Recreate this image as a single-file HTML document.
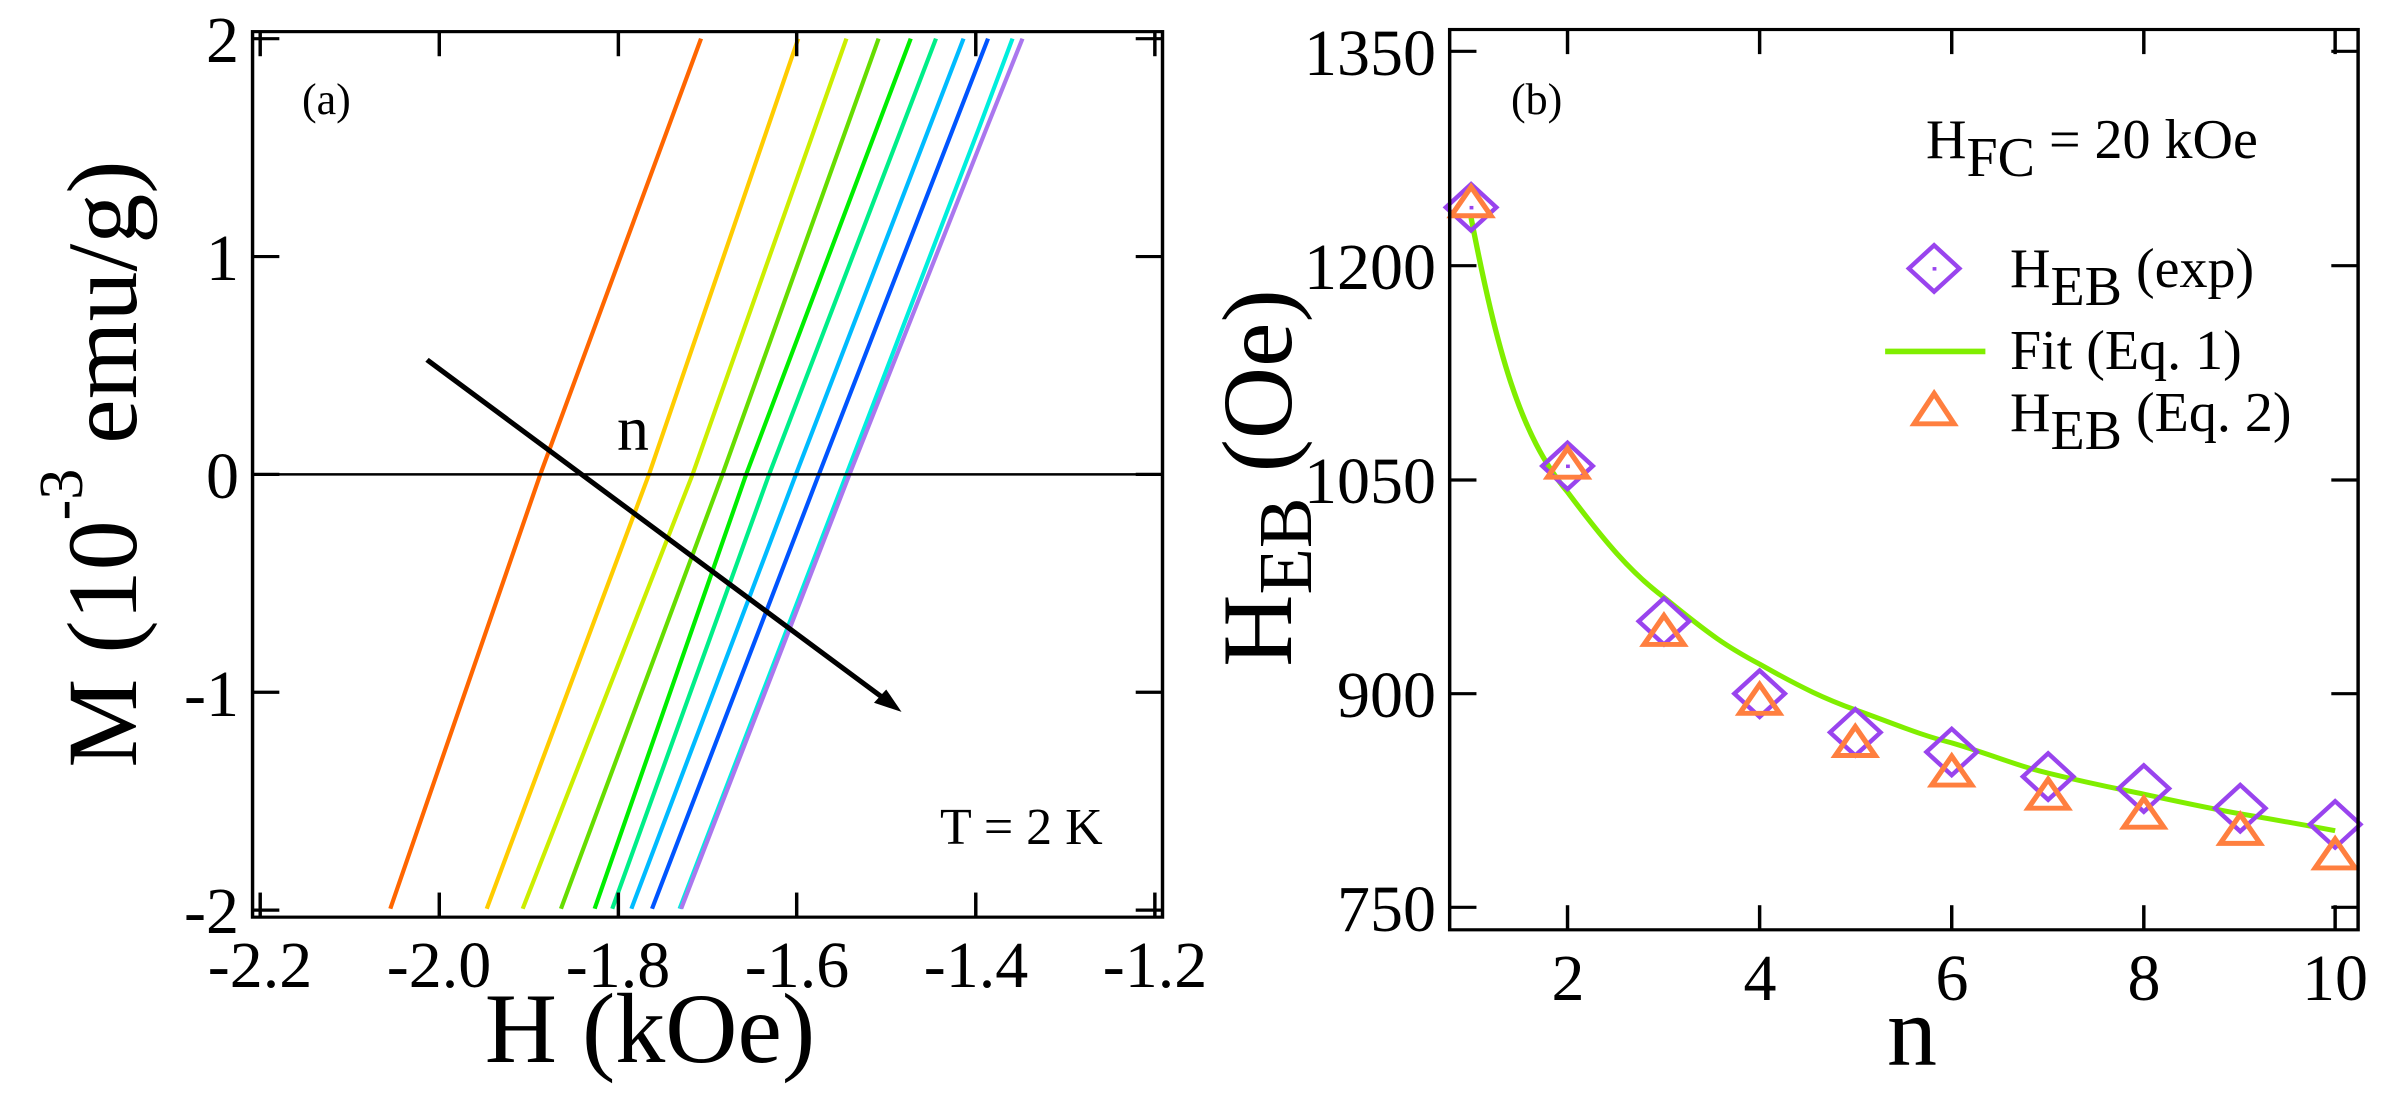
<!DOCTYPE html>
<html><head><meta charset="utf-8"><style>
html,body{margin:0;padding:0;background:#fff}
svg{display:block}
text{font-family:"Liberation Serif",serif;fill:#000}
</style></head><body>
<svg width="2391" height="1102" viewBox="0 0 2391 1102" xmlns="http://www.w3.org/2000/svg">
<g transform="scale(0.76531,0.7028)">
  <g fill="none" stroke-width="5.5">
    <polyline stroke="#ff6600" points="510,1293 706,675 916,55"/>
    <polyline stroke="#ffcc00" points="636,1293 848,675 1043,55"/>
    <polyline stroke="#ccee00" points="683,1293 905,675 1106,55"/>
    <polyline stroke="#66dd00" points="733,1293 944,675 1148,55"/>
    <polyline stroke="#00ee00" points="777,1293 975,675 1190,55"/>
    <polyline stroke="#00ee88" points="800,1293 1005,675 1223,55"/>
    <polyline stroke="#00bbff" points="825,1293 1040,675 1259,55"/>
    <polyline stroke="#0055ff" points="852,1293 1070,675 1291,55"/>
    <polyline stroke="#00eedd" points="888,1293 1106,675 1280,180 1323,55"/>
    <polyline stroke="#aa77ee" points="890,1293 1110,675 1290,180 1336,55"/>
  </g>
  <line x1="330" y1="675" x2="1519" y2="675" stroke="#000" stroke-width="3.5"/>
  <line x1="558" y1="512" x2="1160" y2="998" stroke="#000" stroke-width="7"/>
  <polygon points="1178,1013 1142,1000 1158,981" fill="#000"/>
  <rect x="330" y="45" width="1189" height="1260" fill="none" stroke="#000" stroke-width="4.5"/>
  <g stroke="#000" stroke-width="4.5">
    <line x1="340" y1="1305" x2="340" y2="1270"/><line x1="574" y1="1305" x2="574" y2="1270"/><line x1="808" y1="1305" x2="808" y2="1270"/><line x1="1041" y1="1305" x2="1041" y2="1270"/><line x1="1275" y1="1305" x2="1275" y2="1270"/><line x1="1509" y1="1305" x2="1509" y2="1270"/>
    <line x1="340" y1="45" x2="340" y2="80"/><line x1="574" y1="45" x2="574" y2="80"/><line x1="808" y1="45" x2="808" y2="80"/><line x1="1041" y1="45" x2="1041" y2="80"/><line x1="1275" y1="45" x2="1275" y2="80"/><line x1="1509" y1="45" x2="1509" y2="80"/>
    <line x1="330" y1="55" x2="365" y2="55"/><line x1="330" y1="365" x2="365" y2="365"/><line x1="330" y1="675" x2="365" y2="675"/><line x1="330" y1="985" x2="365" y2="985"/><line x1="330" y1="1295" x2="365" y2="1295"/>
    <line x1="1519" y1="55" x2="1484" y2="55"/><line x1="1519" y1="365" x2="1484" y2="365"/><line x1="1519" y1="675" x2="1484" y2="675"/><line x1="1519" y1="985" x2="1484" y2="985"/><line x1="1519" y1="1295" x2="1484" y2="1295"/>
  </g>
</g>
<g font-size="66" text-anchor="middle">
  <text x="260" y="987">-2.2</text><text x="439" y="987">-2.0</text><text x="618" y="987">-1.8</text><text x="797" y="987">-1.6</text><text x="976" y="987">-1.4</text><text x="1155" y="987">-1.2</text>
</g>
<g font-size="66" text-anchor="end">
  <text x="239" y="62">2</text><text x="239" y="280">1</text><text x="239" y="498">0</text><text x="239" y="716">-1</text><text x="239" y="933">-2</text>
</g>
<text x="302" y="114" font-size="44">(a)</text>
<text x="617" y="450" font-size="64">n</text>
<text x="940" y="844" font-size="52">T = 2  K</text>
<text x="650" y="1062" font-size="100" text-anchor="middle">H (kOe)</text>
<text transform="translate(136,464) rotate(-90)" font-size="100" text-anchor="middle">M (10<tspan font-size="62" dy="-54">-3</tspan><tspan dy="54"> emu/g)</tspan></text>

<g transform="translate(1191,0) scale(0.76531,0.7028)">
  <path d="M366,310 C400,500 430,620 492,700 C540,770 575,815 618,850 C680,905 700,920 743,945 C800,980 830,995 868,1010 C920,1030 950,1045 994,1057 C1050,1075 1080,1090 1120,1100 C1180,1116 1210,1122 1245,1130 C1300,1143 1330,1150 1371,1158 C1420,1167 1460,1175 1495,1182" fill="none" stroke="#80ee00" stroke-width="7"/>
  <g fill="none" stroke="#9944ee" stroke-width="6">
    <polygon points="366,262 399,295 366,328 333,295"/>
    <polygon points="492,630 525,663 492,696 459,663"/>
    <polygon points="618,851 651,884 618,917 585,884"/>
    <polygon points="743,954 776,987 743,1020 710,987"/>
    <polygon points="868,1009 901,1042 868,1075 835,1042"/>
    <polygon points="994,1037 1027,1070 994,1103 961,1070"/>
    <polygon points="1120,1072 1153,1105 1120,1138 1087,1105"/>
    <polygon points="1245,1089 1278,1122 1245,1155 1212,1122"/>
    <polygon points="1371,1117 1404,1150 1371,1183 1338,1150"/>
    <polygon points="1495,1140 1528,1173 1495,1206 1462,1173"/>
    <polygon points="971,349 1004,382 971,415 938,382"/>
  </g>
  <g fill="#9944ee">
    <rect x="364" y="293" width="5" height="5"/><rect x="490" y="661" width="5" height="5"/><rect x="969" y="380" width="5" height="5"/>
  </g>
  <g fill="none" stroke="#ff7f3f" stroke-width="7">
    <polygon points="366,266 392,307 340,307"/>
    <polygon points="492,638 518,679 466,679"/>
    <polygon points="618,876 644,917 592,917"/>
    <polygon points="743,974 769,1015 717,1015"/>
    <polygon points="868,1034 894,1075 842,1075"/>
    <polygon points="994,1076 1020,1117 968,1117"/>
    <polygon points="1120,1109 1146,1150 1094,1150"/>
    <polygon points="1245,1136 1271,1177 1219,1177"/>
    <polygon points="1371,1159 1397,1200 1345,1200"/>
    <polygon points="1495,1194 1521,1235 1469,1235"/>
    <polygon points="971,560 997,603 945,603"/>
  </g>
  <line x1="907" y1="500" x2="1038" y2="500" stroke="#80ee00" stroke-width="8"/>
  <rect x="338" y="42" width="1187" height="1281" fill="none" stroke="#000" stroke-width="4.5"/>
  <g stroke="#000" stroke-width="4.5">
    <line x1="492" y1="1323" x2="492" y2="1288"/><line x1="743" y1="1323" x2="743" y2="1288"/><line x1="994" y1="1323" x2="994" y2="1288"/><line x1="1245" y1="1323" x2="1245" y2="1288"/><line x1="1495" y1="1323" x2="1495" y2="1288"/>
    <line x1="492" y1="42" x2="492" y2="77"/><line x1="743" y1="42" x2="743" y2="77"/><line x1="994" y1="42" x2="994" y2="77"/><line x1="1245" y1="42" x2="1245" y2="77"/><line x1="1495" y1="42" x2="1495" y2="77"/>
    <line x1="338" y1="73" x2="373" y2="73"/><line x1="338" y1="378" x2="373" y2="378"/><line x1="338" y1="683" x2="373" y2="683"/><line x1="338" y1="987" x2="373" y2="987"/><line x1="338" y1="1291" x2="373" y2="1291"/>
    <line x1="1525" y1="73" x2="1490" y2="73"/><line x1="1525" y1="378" x2="1490" y2="378"/><line x1="1525" y1="683" x2="1490" y2="683"/><line x1="1525" y1="987" x2="1490" y2="987"/><line x1="1525" y1="1291" x2="1490" y2="1291"/>
  </g>
</g>
<g font-size="66" text-anchor="middle">
  <text x="1568" y="1000">2</text><text x="1760" y="1000">4</text><text x="1952" y="1000">6</text><text x="2144" y="1000">8</text><text x="2335" y="1000">10</text>
</g>
<g font-size="66" text-anchor="end">
  <text x="1436" y="75">1350</text><text x="1436" y="289">1200</text><text x="1436" y="503">1050</text><text x="1436" y="717">900</text><text x="1436" y="931">750</text>
</g>
<text x="1511" y="114" font-size="44">(b)</text>
<text x="1926" y="158" font-size="56">H<tspan dy="18">FC</tspan><tspan dy="-18"> = 20 kOe</tspan></text>
<text x="2010" y="287" font-size="56">H<tspan dy="18">EB</tspan><tspan dy="-18"> (exp)</tspan></text>
<text x="2010" y="369" font-size="56">Fit (Eq. 1)</text>
<text x="2010" y="431" font-size="56">H<tspan dy="18">EB</tspan><tspan dy="-18"> (Eq. 2)</tspan></text>
<text x="1912" y="1065" font-size="100" text-anchor="middle">n</text>
<text transform="translate(1291,478) rotate(-90)" font-size="100" text-anchor="middle">H<tspan font-size="76" dy="20">EB</tspan><tspan dy="-20"> (Oe)</tspan></text>
</svg>
</body></html>
